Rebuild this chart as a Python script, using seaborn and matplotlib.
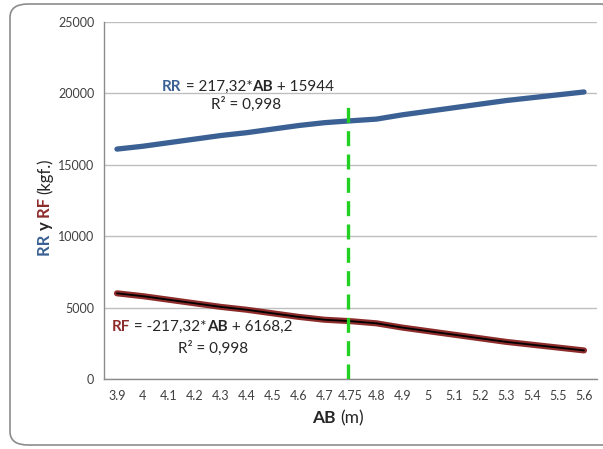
import pandas as pd
import matplotlib.pyplot as plt
import seaborn as sns
from matplotlib.patches import FancyBboxPatch
from matplotlib.transforms import IdentityTransform

ab_labels = ['3.9', '4', '4.1', '4.2', '4.3', '4.4', '4.5', '4.6', '4.7', '4.75',
             '4.8', '4.9', '5', '5.1', '5.2', '5.3', '5.4', '5.5', '5.6']
rr_values = [16100, 16300, 16550, 16800, 17050, 17250, 17500, 17750, 17950, 18080,
             18200, 18500, 18750, 19000, 19250, 19500, 19700, 19900, 20100]
rf_values = [6000, 5800, 5550, 5300, 5050, 4850, 4600, 4350, 4150, 4050,
             3900, 3600, 3350, 3100, 2850, 2600, 2400, 2200, 2000]
y_ticks = [0, 5000, 10000, 15000, 20000, 25000]
marker_ab = '4.75'
marker_top = 19500

df = pd.DataFrame({'AB': ab_labels, 'RR': rr_values, 'RF': rf_values})

sns.set_style('white')
plt.rcParams['font.family'] = ['Lato', 'DejaVu Sans']

W, H = 603, 449
fig = plt.figure(figsize=(W / 100, H / 100), dpi=100)
ax = fig.add_axes([104 / W, (H - 379) / H, 493 / W, 357 / H])

# rounded outer frame like the Excel chart area
frame = FancyBboxPatch((10 / W, 4 / H), 610 / W, 441 / H,
                       boxstyle='round,pad=0,rounding_size=0.03',
                       transform=fig.transFigure, facecolor='none',
                       edgecolor='#8c8c8c', linewidth=1.2, clip_on=False)
fig.patches.append(frame)

rr_col = '#3a6094'
rf_col = '#8e2b2b'

sns.lineplot(data=df, x='AB', y='RR', ax=ax, color=rr_col, linewidth=3.8,
             sort=False, solid_capstyle='round')
sns.lineplot(data=df, x='AB', y='RF', ax=ax, color=rf_col, linewidth=4.4,
             sort=False, solid_capstyle='round')
sns.lineplot(data=df, x='AB', y='RF', ax=ax, color='black', linewidth=1.3,
             sort=False)

xi = ab_labels.index(marker_ab)
ax.plot([xi - 0.1, xi - 0.1], [0, marker_top], color='#22d022', linewidth=2.4,
        linestyle=(0, (4.5, 2.5)), zorder=5)

n = len(ab_labels)
ax.set_xlim(-0.5, n - 0.5)
ax.set_ylim(0, 25000)
ax.set_yticks(y_ticks)
ax.set_yticklabels([str(v) for v in y_ticks])
ax.set_xticks(range(n))
ax.set_xticklabels(ab_labels)
ax.set_xticks([i - 0.5 for i in range(n + 1)], minor=True)
ax.tick_params(axis='x', which='major', length=0, pad=8, labelsize=9, labelcolor='#404040')
ax.tick_params(axis='x', which='minor', length=4, color='#8c8c8c', width=1, direction='out')
ax.tick_params(axis='y', length=4, color='#8c8c8c', direction='out', pad=3,
               labelsize=9, labelcolor='#404040')
ax.yaxis.grid(True, color='#bfbfbf', linewidth=1)
ax.set_axisbelow(True)
for s in ['top', 'right']:
    ax.spines[s].set_visible(False)
for s in ['left', 'bottom']:
    ax.spines[s].set_color('#8c8c8c')
    ax.spines[s].set_linewidth(1)
ax.set_xlabel('')
ax.set_ylabel('')

renderer = fig.canvas.get_renderer()


def rich(parts, x, y, size, rotation=0):
    # parts: list of (text, color, weight); x, y are pixel coords from top-left
    texts = []
    for s, c, w in parts:
        t = fig.text(0, 0, s, color=c, fontweight=w, fontsize=size,
                     transform=IdentityTransform(), rotation=rotation,
                     rotation_mode='anchor', ha='left', va='baseline')
        texts.append(t)
    sizes = []
    for t in texts:
        ext = t.get_window_extent(renderer)
        sizes.append(ext.height if rotation else ext.width)
    pos = -sum(sizes) / 2
    for t, adv in zip(texts, sizes):
        if rotation:
            t.set_position((x, H - y + pos))
        else:
            t.set_position((x + pos, H - y))
        pos += adv


dark = '#262626'
rich([('RR', rr_col, 'bold'), (' = 217,32*', dark, 'normal'), ('AB', dark, 'bold'),
      (' + 15944', dark, 'normal')], 248, 91, 11)
rich([('R² = 0,998', dark, 'normal')], 246, 109, 11)
rich([('RF', rf_col, 'bold'), (' = -217,32*', dark, 'normal'), ('AB', dark, 'bold'),
      (' + 6168,2', dark, 'normal')], 202, 331, 11)
rich([('R² = 0,998', dark, 'normal')], 213, 353, 11)

rich([('RR ', rr_col, 'bold'), ('y ', dark, 'bold'), ('RF ', rf_col, 'bold'),
      ('(kgf.)', dark, 'normal')], 50, 207, 12, rotation=90)
rich([('AB ', dark, 'bold'), ('(m)', dark, 'normal')], 338, 423, 12.5)

fig.savefig('out.png', dpi=100)
